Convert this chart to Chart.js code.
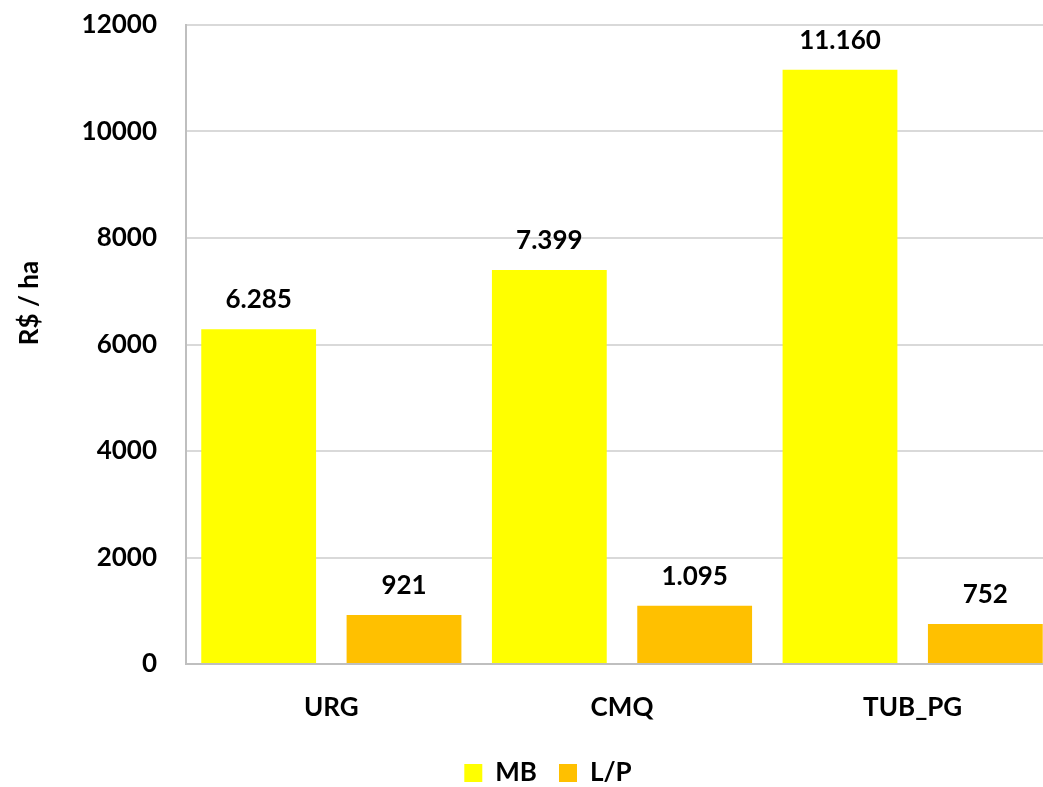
<!DOCTYPE html>
<html>
<head>
<meta charset="utf-8">
<script src="https://cdn.jsdelivr.net/npm/chart.js@4.4.1/dist/chart.umd.min.js"></script>
<style>
    html, body { margin: 0; background: #fff; overflow: hidden; }
    #grafico { display: block; }
</style>
</head>
<body>
<canvas id="grafico" width="1058" height="787"></canvas>
<script>
const categorias = ["URG", "CMQ", "TUB_PG"]
const valoresMB = [6285, 7399, 11160]
const valoresLP = [921, 1095, 752]
const ticksY = [0, 2000, 4000, 6000, 8000, 10000, 12000]
const tituloY = "R$ / ha"

const fonte = "Lato"
const tamFonte = 26

// escreve 6285 como 6.285
function formatarValor(v) {
    return String(v).replace(/\B(?=(\d{3})+(?!\d))/g, ".")
}

const rotulosBarras = {
    id: "rotulosBarras",
    afterLayout(chart) {
        // a legenda do original fica um pouco mais a direita e mais abaixo
        const leg = chart.legend
        leg.left += 19
        leg.right += 19
        leg.top += 9
        leg.bottom += 9
    },
    afterDatasetsDraw(chart) {
        const ctx = chart.ctx
        ctx.save()
        ctx.font = `bold ${tamFonte}px ${fonte}`
        ctx.fillStyle = "#000"
        ctx.textAlign = "center"
        ctx.textBaseline = "alphabetic"
        chart.data.datasets.forEach(function (ds, i) {
            const meta = chart.getDatasetMeta(i)
            meta.data.forEach(function (barra, j) {
                ctx.fillText(formatarValor(ds.data[j]), barra.x, barra.y - 21)
            })
        })
        // titulo do eixo y
        ctx.translate(30, 303)
        ctx.rotate(-Math.PI / 2)
        ctx.textBaseline = "middle"
        ctx.fillText(tituloY, 0, 0)
        ctx.restore()
    }
}

new Chart(document.getElementById("grafico"), {
    type: "bar",
    data: {
        labels: categorias,
        datasets: [
            {
                label: "MB",
                data: valoresMB,
                backgroundColor: "#FFFF00",
                barPercentage: 0.79,
                categoryPercentage: 1.0
            },
            {
                label: "L/P",
                data: valoresLP,
                backgroundColor: "#FFC000",
                barPercentage: 0.79,
                categoryPercentage: 1.0
            }
        ]
    },
    options: {
        responsive: false,
        animation: false,
        layout: {
            padding: { top: 25, right: 0, left: 0, bottom: 0 }
        },
        plugins: {
            legend: {
                position: "bottom",
                labels: {
                    boxWidth: 18,
                    boxHeight: 18,
                    padding: 22,
                    color: "#000",
                    font: { family: fonte, size: tamFonte, weight: "bold" }
                }
            },
            tooltip: { enabled: false }
        },
        scales: {
            y: {
                min: 0,
                max: 12000,
                afterBuildTicks: function (escala) {
                    escala.ticks = ticksY.map(function (v) { return { value: v } })
                },
                afterFit: function (escala) {
                    escala.width = 186
                    escala.paddingTop = 0
                    escala.paddingBottom = 0
                },
                ticks: {
                    padding: 29,
                    color: "#000",
                    font: { family: fonte, size: tamFonte, weight: "bold" },
                    callback: function (v) { return String(v) }
                },
                grid: {
                    color: "#d9d9d9",
                    lineWidth: 2,
                    drawTicks: false
                },
                border: { color: "#bfbfbf", width: 2 }
            },
            x: {
                afterFit: function (escala) {
                    escala.height = 65
                    escala.paddingLeft = 0
                    escala.paddingRight = 0
                },
                ticks: {
                    padding: 20,
                    color: "#000",
                    font: { family: fonte, size: tamFonte, weight: "bold" }
                },
                grid: { display: false },
                border: { color: "#bfbfbf", width: 2 }
            }
        }
    },
    plugins: [rotulosBarras]
})
</script>
</body>
</html>
